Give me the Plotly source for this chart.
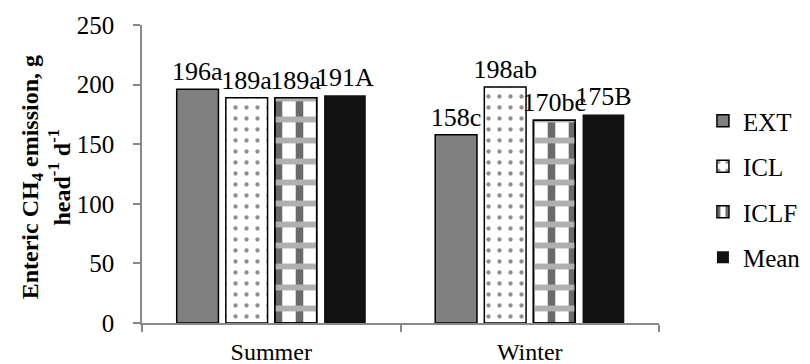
from plotly import graph_objects as plgo

SEASONS = ['Summer', 'Winter']
TREATMENTS = ['EXT', 'ICL', 'ICLF', 'Mean']
EXT = [196, 158]
ICL = [189, 198]
ICLF = [189, 170]
MEAN = [191, 175]
EXT_LETTERS = ['a', 'c']
ICL_LETTERS = ['a', 'ab']
ICLF_LETTERS = ['a', 'bc']
MEAN_LETTERS = ['A', 'B']
Y_TITLE = '<b>Enteric CH<sub>4</sub> emission, g<br>head<sup>-1</sup> d<sup>-1</sup></b>'

FONT = 'Liberation Serif'

series = [
    ('EXT', EXT, EXT_LETTERS,
     dict(color='#808080', line=dict(color='black', width=1.5))),
    ('ICL', ICL, ICL_LETTERS,
     dict(color='white', line=dict(color='black', width=1.5),
          pattern=dict(shape='.', fgcolor='#8f8f8f', bgcolor='white', size=11,
                       solidity=0.12, fgopacity=1))),
    ('ICLF', ICLF, ICLF_LETTERS,
     dict(color='white', line=dict(color='black', width=1.5),
          pattern=dict(shape='|', fgcolor='#6a6a6a', bgcolor='white', size=21,
                       solidity=0.36, fgopacity=1))),
    ('Mean', MEAN, MEAN_LETTERS,
     dict(color='#111111', line=dict(color='#111111', width=0))),
]

fig = plgo.Figure()
for name, values, letters, marker in series:
    labels = [f'{v}{l}' for v, l in zip(values, letters)]
    fig.add_bar(x=SEASONS, y=values, name=name, marker=marker,
                offsetgroup=name,
                text=labels, textposition='outside', texttemplate='%{text}',
                textfont=dict(family=FONT, size=26, color='black'),
                constraintext='none', cliponaxis=False,
                legendgroup=name)
    if name == 'ICLF':
        # dotted horizontal bands drawn over the striped ICLF bars
        fig.add_bar(x=SEASONS, y=values, name=name, offsetgroup=name,
                    marker=dict(color='rgba(0,0,0,0)',
                                line=dict(color='black', width=1.5),
                                pattern=dict(shape='-', fgcolor='#b0b0b0', fgopacity=1,
                                             bgcolor='rgba(0,0,0,0)', size=21, solidity=0.28)),
                    showlegend=False, hoverinfo='skip', legendgroup=name)

fig.add_annotation(text=Y_TITLE, xref='paper', yref='paper', x=-0.185, y=0.49,
                   xanchor='center', yanchor='middle', textangle=-90, showarrow=False,
                   font=dict(family=FONT, size=24, color='black'))

# the page body adds 8px on the left and top, so margins are 8px less
fig.update_layout(
    width=810, height=364,
    margin=dict(l=134, r=133, t=17, b=49),
    paper_bgcolor='white', plot_bgcolor='white',
    font=dict(family=FONT, size=25, color='black'),
    barmode='group', bargap=0.24, bargroupgap=0.15,
    showlegend=True,
    legend=dict(x=1.085, y=0.755, xanchor='left', yanchor='top',
                font=dict(family=FONT, size=25, color='black'),
                tracegroupgap=10, itemwidth=30),
    xaxis=dict(showline=True, linecolor='#888888', linewidth=1.5,
               ticks='outside', tickson='boundaries', ticklen=7,
               tickcolor='#888888', tickwidth=1.5, automargin=False,
               ticklabelstandoff=6, tickfont=dict(size=24)),
    yaxis=dict(range=[0, 250], dtick=50, showgrid=False, zeroline=False,
               showline=True, linecolor='#888888', linewidth=1.5,
               ticks='outside', ticklen=7, tickcolor='#888888', tickwidth=1.5,
               automargin=False, ticklabelposition='outside', ticklabelstandoff=14,
               tickfont=dict(size=25)),
)

fig.write_html("out.html")
